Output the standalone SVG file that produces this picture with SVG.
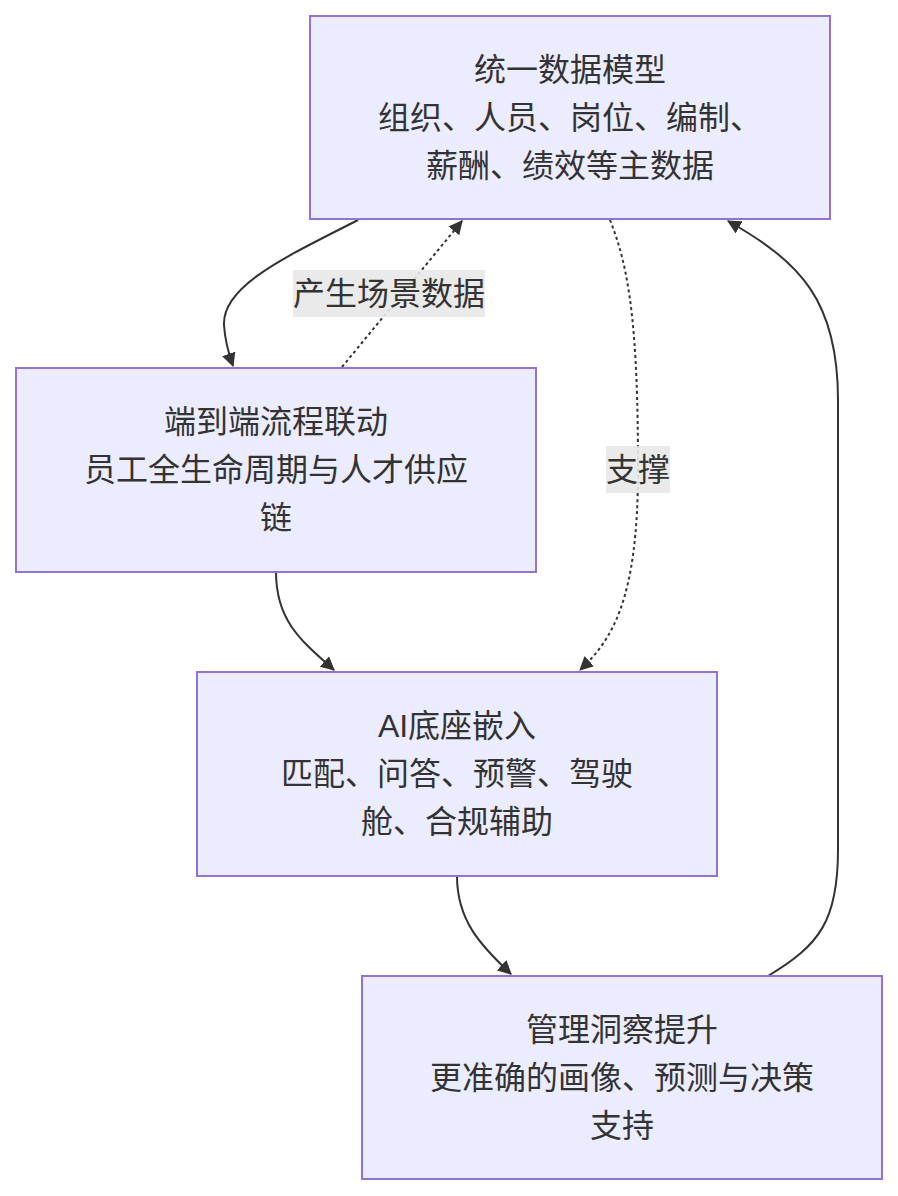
<svg xmlns="http://www.w3.org/2000/svg" width="898" height="1196" viewBox="0 0 898 1196">
<style>
.node rect{fill:#ECECFF;stroke:#9370DB;stroke-width:2}
text{font-family:"Liberation Sans","Noto Sans CJK SC",sans-serif;font-size:32px;fill:#333;text-anchor:middle}
.edge{fill:none;stroke:#333;stroke-width:2}
.dot{stroke-dasharray:3 3}
.lbl{fill:#e8e8e8;opacity:0.9}
</style>
<defs>
<marker id="arrow" viewBox="0 0 12 12" refX="11" refY="6" markerWidth="14" markerHeight="14" markerUnits="userSpaceOnUse" orient="auto">
<path d="M0,0 L12,6 L0,12 z" fill="#333"/>
</marker>
</defs>
<rect width="898" height="1196" fill="#fff"/>
<g id="connectors">
<path class="edge" d="M358,220 C290,255 222,285 224,325 C225,340 228,352 233,366" marker-end="url(#arrow)"/>
<path class="edge dot" d="M342,367 L462,221" marker-end="url(#arrow)"/>
<path class="edge dot" d="M610,220 C630,270 638,330 638,470 C638,600 612,640 580,670" marker-end="url(#arrow)"/>
<path class="edge" d="M276,572 C276,620 300,640 334,670" marker-end="url(#arrow)"/>
<path class="edge" d="M457,876 C457,920 480,945 511,974" marker-end="url(#arrow)"/>
<path class="edge" d="M768,976 C820,945 838,920 838,850 L838,400 C838,300 800,262 728,221" marker-end="url(#arrow)"/>
<rect class="lbl" x="293" y="270" width="192" height="47"/>
<text x="389" y="305">产生场景数据</text>
<rect class="lbl" x="606" y="446" width="64" height="47"/>
<text x="638" y="481">支撑</text>
</g>
<g id="A" class="node">
<rect x="310" y="16" width="520" height="203"/>
<text x="570" y="81">统一数据模型</text>
<text x="570" y="129">组织、人员、岗位、编制、</text>
<text x="570" y="177">薪酬、绩效等主数据</text>
</g>
<g id="B" class="node">
<rect x="16" y="368" width="520" height="204"/>
<text x="276" y="433">端到端流程联动</text>
<text x="276" y="481">员工全生命周期与人才供应</text>
<text x="276" y="529">链</text>
</g>
<g id="C" class="node">
<rect x="197" y="672" width="520" height="204"/>
<text x="457" y="737">AI底座嵌入</text>
<text x="457" y="785">匹配、问答、预警、驾驶</text>
<text x="457" y="833">舱、合规辅助</text>
</g>
<g id="D" class="node">
<rect x="362" y="976" width="520" height="203"/>
<text x="622" y="1041">管理洞察提升</text>
<text x="622" y="1089">更准确的画像、预测与决策</text>
<text x="622" y="1137">支持</text>
</g>
</svg>
